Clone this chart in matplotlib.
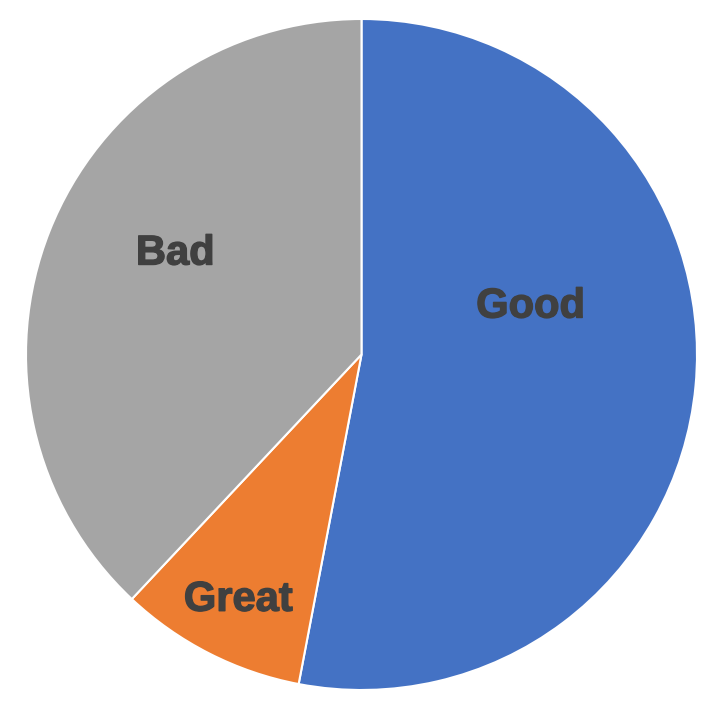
import matplotlib
matplotlib.use('Agg')
import matplotlib.pyplot as plt
import matplotlib.patheffects as pe

labels = ['Good', 'Great', 'Bad']
values = [53, 9, 38]
colors = ['#4472C4', '#ED7D31', '#A5A5A5']
# label positions (data coords, pie radius = 1)
label_pos = [(0.504, 0.143), (-0.367, -0.731), (-0.555, 0.301)]

fig = plt.figure(figsize=(7.17, 7.09), dpi=100)
ax = fig.add_axes([26 / 717, 19 / 709, 671 / 717, 671 / 709])

ax.pie(values, colors=colors, startangle=90, counterclock=False, radius=1,
       wedgeprops=dict(edgecolor='white', linewidth=1.5))

for name, (x, y) in zip(labels, label_pos):
    ax.text(x, y, name, ha='center', va='center', fontsize=30,
            fontweight='bold', color='#404040', family='Liberation Sans',
            path_effects=[pe.withStroke(linewidth=1.0, foreground='#404040')])

ax.set_xlim(-1, 1)
ax.set_ylim(-1, 1)
ax.set_aspect('equal')
ax.axis('off')

fig.savefig('out.png', dpi=100, facecolor='white')
